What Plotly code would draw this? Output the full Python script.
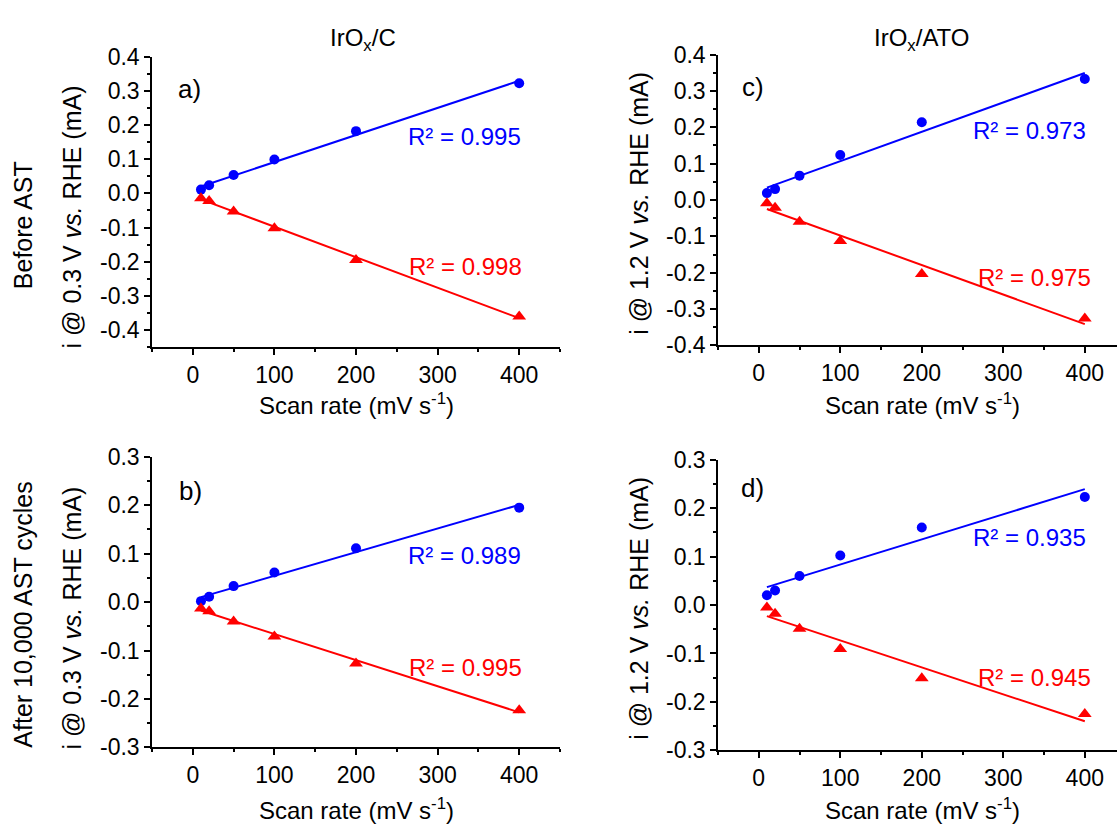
import numpy as np
import plotly.graph_objects as go

# ---------------- data ----------------
scan_rate = [10, 20, 50, 100, 200, 400]

# a) IrOx/C, before AST  (i @ 0.3 V vs. RHE)
a_anodic = [0.011, 0.024, 0.054, 0.099, 0.182, 0.322]
a_cathodic = [-0.014, -0.022, -0.053, -0.102, -0.195, -0.360]
# b) IrOx/C, after 10,000 AST cycles
b_anodic = [0.002, 0.011, 0.033, 0.061, 0.111, 0.195]
b_cathodic = [-0.013, -0.019, -0.040, -0.071, -0.127, -0.223]
# c) IrOx/ATO, before AST (i @ 1.2 V vs. RHE)
c_anodic = [0.019, 0.030, 0.067, 0.124, 0.214, 0.333]
c_cathodic = [-0.009, -0.021, -0.060, -0.113, -0.204, -0.326]
# d) IrOx/ATO, after 10,000 AST cycles
d_anodic = [0.020, 0.030, 0.060, 0.102, 0.160, 0.223]
d_cathodic = [-0.005, -0.018, -0.049, -0.091, -0.151, -0.225]

r2_anodic = {"a": "0.995", "b": "0.989", "c": "0.973", "d": "0.935"}
r2_cathodic = {"a": "0.998", "b": "0.995", "c": "0.975", "d": "0.945"}

x_ticks = [0, 100, 200, 300, 400]
y_ticks_top = [-0.4, -0.3, -0.2, -0.1, 0.0, 0.1, 0.2, 0.3, 0.4]
y_ticks_bot = [-0.3, -0.2, -0.1, 0.0, 0.1, 0.2, 0.3]

column_titles = ["IrO<sub>x</sub>/C", "IrO<sub>x</sub>/ATO"]
row_titles = ["Before AST", "After 10,000 AST cycles"]
y_titles = {"a": "i @ 0.3 V <i>vs.</i> RHE (mA)", "b": "i @ 0.3 V <i>vs.</i> RHE (mA)",
            "c": "i @ 1.2 V <i>vs.</i> RHE (mA)", "d": "i @ 1.2 V <i>vs.</i> RHE (mA)"}
x_title = "Scan rate (mV s<sup>-1</sup>)"

# ---------------- layout geometry (pixels) ----------------
W, H = 1117, 836
FONT = "Arial, Liberation Sans, sans-serif"
BLUE, RED = "#0000FF", "#FF0000"
FS = 23   # tick labels
FT = 24   # x titles / R² / column titles
FV = 25   # vertical titles


def fx(px):
    return px / W


def fy(py):
    return 1 - py / H


panels = {
    "a": (a_anodic, a_cathodic, 1, (152, 560), (-50, 450), (45, 345), (-0.45, 0.4), y_ticks_top),
    "b": (b_anodic, b_cathodic, 2, (152, 560), (-50, 450), (458, 758), (-0.3, 0.3), y_ticks_bot),
    "c": (c_anodic, c_cathodic, 3, (718, 1117), (-50, 439.5), (43, 343), (-0.4, 0.4), y_ticks_top),
    "d": (d_anodic, d_cathodic, 4, (718, 1117), (-50, 439.5), (461, 761), (-0.3, 0.3), y_ticks_bot),
}

fig = go.Figure()
layout = dict(width=W, height=H, margin=dict(l=0, r=0, t=0, b=0),
              paper_bgcolor="white", plot_bgcolor="white", showlegend=False,
              font=dict(family=FONT, size=FS, color="black"))
annotations = []

for key, (an, cat, n, xpx, xr, ypx, yr, yt) in panels.items():
    xa = "x" if n == 1 else f"x{n}"
    ya = "y" if n == 1 else f"y{n}"
    xs = np.array(scan_rate, dtype=float)
    for vals, color, sym, sz in ((an, BLUE, "circle", 10), (cat, RED, "triangle-up", 12)):
        k, b0 = np.polyfit(xs, np.array(vals), 1)
        xl = np.array([xs.min(), xs.max()])
        fig.add_trace(go.Scatter(x=xl, y=k * xl + b0, mode="lines", xaxis=xa, yaxis=ya,
                                 line=dict(color=color, width=2), hoverinfo="skip"))
        fig.add_trace(go.Scatter(x=scan_rate, y=vals, mode="markers", xaxis=xa, yaxis=ya,
                                 marker=dict(symbol=sym, size=sz, color=color, line=dict(width=0))))
    axis_common = dict(showline=True, linecolor="black", linewidth=1.5, ticks="outside",
                       ticklen=6, tickwidth=1.5, tickcolor="black", showgrid=False, zeroline=False,
                       mirror=False, tickfont=dict(family=FONT, size=FS, color="black"))
    layout["xaxis" if n == 1 else f"xaxis{n}"] = dict(
        axis_common, domain=[fx(xpx[0]), fx(xpx[1])], range=list(xr), anchor=ya,
        tickmode="array", tickvals=x_ticks, ticktext=[str(v) for v in x_ticks],
        minor=dict(tickmode="linear", tick0=-50, dtick=50, ticklen=3, tickwidth=1.5, tickcolor="black", ticks="outside"))
    layout["yaxis" if n == 1 else f"yaxis{n}"] = dict(
        axis_common, domain=[fy(ypx[1]), fy(ypx[0])], range=list(yr), anchor=xa,
        tickmode="array", tickvals=yt, ticktext=[f"{v:.1f}" if v != 0 else "0.0" for v in yt],
        minor=dict(tickmode="linear", tick0=0, dtick=0.05, ticklen=3, tickwidth=1.5, tickcolor="black", ticks="outside"))

# panel labels (left edge, vertical centre in px)
label_pos = {"a": (176, 78), "b": (177, 493), "c": (740, 76), "d": (739, 490)}
for key, (xp, yp) in label_pos.items():
    annotations.append(dict(text=f"{key})", x=fx(xp), y=fy(yp), xref="paper", yref="paper",
                            xanchor="left", yanchor="middle", showarrow=False, font=dict(family=FONT, size=26)))

# R² labels (right edge / middle, px)
r2_pos = {"a": ((523, 127), (524, 262)), "b": ((523, 560), (524, 676)),
          "c": ((1088, 121), (1093, 273)), "d": ((1088, 541), (1093, 686))}
for key, ((xb, yb), (xr_, yr_)) in r2_pos.items():
    annotations.append(dict(text=f"R² = {r2_anodic[key]}", x=fx(xb), y=fy(yb), xref="paper", yref="paper",
                            xanchor="right", yanchor="middle", showarrow=False, font=dict(family=FONT, size=FT, color=BLUE)))
    annotations.append(dict(text=f"R² = {r2_cathodic[key]}", x=fx(xr_), y=fy(yr_), xref="paper", yref="paper",
                            xanchor="right", yanchor="middle", showarrow=False, font=dict(family=FONT, size=FT, color=RED)))

# y axis titles
ytitle_pos = {"a": (72, 211), "b": (72, 625), "c": (639, 197), "d": (639, 615)}
for key, (xp, yp) in ytitle_pos.items():
    annotations.append(dict(text=y_titles[key], x=fx(xp), y=fy(yp), xref="paper", yref="paper",
                            xanchor="center", yanchor="middle", textangle=-90, showarrow=False,
                            font=dict(family=FONT, size=FV)))

# x axis titles
for xp, yp in ((356, 404), (922, 404), (356, 822), (922, 822)):
    annotations.append(dict(text=x_title, x=fx(xp), y=fy(yp), xref="paper", yref="paper",
                            xanchor="center", yanchor="middle", showarrow=False,
                            font=dict(family=FONT, size=FT)))

# row titles
for text, yp in zip(row_titles, (219, 621)):
    annotations.append(dict(text=text, x=fx(23), y=fy(yp), xref="paper", yref="paper",
                            xanchor="center", yanchor="middle", textangle=-90, showarrow=False,
                            font=dict(family=FONT, size=FV)))

# column titles
for text, xp in zip(column_titles, (363, 922)):
    annotations.append(dict(text=text, x=fx(xp), y=fy(27), xref="paper", yref="paper",
                            xanchor="center", yanchor="middle", showarrow=False,
                            font=dict(family=FONT, size=FT)))

layout["annotations"] = annotations
fig.update_layout(**layout)
fig.write_html("out.html", config={"displayModeBar": False},
               post_script="document.body.style.margin='0';document.body.style.padding='0';")
